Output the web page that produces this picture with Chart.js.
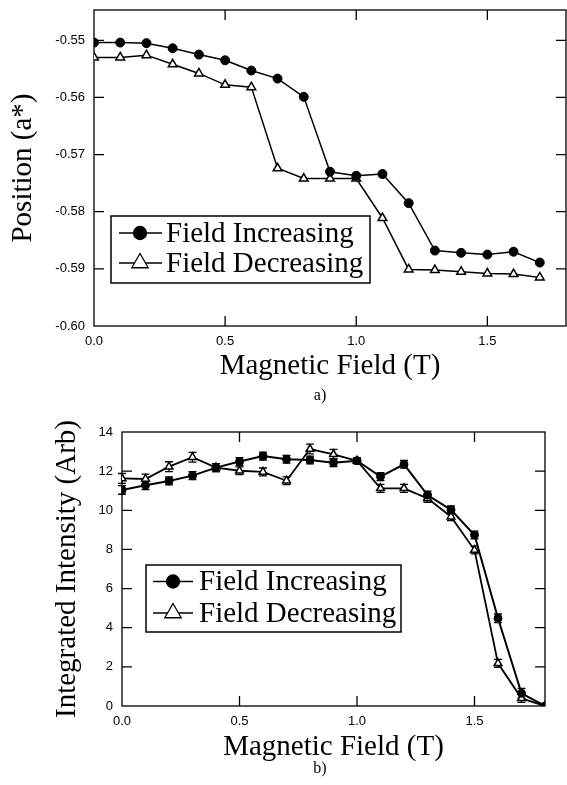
<!DOCTYPE html>
<html>
<head>
<meta charset="utf-8">
<script src="https://cdn.jsdelivr.net/npm/chart.js@4.4.1/dist/chart.umd.min.js"></script>
<style>
  html, body { margin: 0; padding: 0; background: #fff; }
  #wrap { position: relative; width: 567px; height: 785px; overflow: hidden; background: #fff; }
  .box { position: absolute; left: 0; }
  .cap { position: absolute; font-family: 'Liberation Serif', 'Times New Roman', serif; font-size: 16px; color: #000; transform: translate(-50%, -50%); white-space: nowrap; }
</style>
</head>
<body>
<div id="wrap">
  <div class="box" style="top:0;width:567px;height:400px;"><canvas id="ca" width="567" height="400"></canvas></div>
  <div class="box" style="top:400px;width:567px;height:385px;"><canvas id="cb" width="567" height="385"></canvas></div>
  <div class="cap" style="left:320px;top:395px;">a)</div>
  <div class="cap" style="left:320px;top:768px;">b)</div>
</div>
<script>
// ---------- data: panel a ----------
const fieldA = [0.0, 0.1, 0.2, 0.3, 0.4, 0.5, 0.6, 0.7, 0.8, 0.9, 1.0, 1.1, 1.2, 1.3, 1.4, 1.5, 1.6, 1.7];
const positionIncreasing = [-0.5504, -0.5504, -0.5505, -0.5514, -0.5525, -0.5535, -0.5553, -0.5567, -0.5599, -0.5730, -0.5737, -0.5734, -0.5785, -0.5868, -0.5872, -0.5875, -0.5870, -0.5889];
const positionDecreasing = [-0.5530, -0.5530, -0.5526, -0.5542, -0.5558, -0.5578, -0.5582, -0.5724, -0.5742, -0.5742, -0.5742, -0.5811, -0.5901, -0.5902, -0.5905, -0.5908, -0.5909, -0.5915];
const xTicksA = [0.0, 0.5, 1.0, 1.5];
const xTickLabelsA = ['0.0', '0.5', '1.0', '1.5'];
const yTicksA = [-0.60, -0.59, -0.58, -0.57, -0.56, -0.55];
const yTickLabelsA = ['-0.60', '-0.59', '-0.58', '-0.57', '-0.56', '-0.55'];

// ---------- data: panel b ----------
const fieldB = [0.0, 0.1, 0.2, 0.3, 0.4, 0.5, 0.6, 0.7, 0.8, 0.9, 1.0, 1.1, 1.2, 1.3, 1.4, 1.5, 1.6, 1.7, 1.8];
const intensityIncreasing = [11.04, 11.28, 11.50, 11.77, 12.18, 12.49, 12.77, 12.61, 12.57, 12.43, 12.53, 11.72, 12.35, 10.78, 10.02, 8.74, 4.48, 0.65, 0.0];
const errorIncreasing = [0.22, 0.22, 0.20, 0.20, 0.20, 0.20, 0.20, 0.20, 0.20, 0.20, 0.15, 0.20, 0.20, 0.20, 0.20, 0.20, 0.22, 0.25, 0.0];
const intensityDecreasing = [11.63, 11.60, 12.23, 12.71, 12.18, 12.02, 11.96, 11.51, 13.13, 12.86, 12.53, 11.12, 11.12, 10.61, 9.67, 7.97, 2.18, 0.39, 0.0];
const errorDecreasing = [0.25, 0.25, 0.25, 0.25, 0.20, 0.20, 0.20, 0.20, 0.25, 0.25, 0.15, 0.20, 0.20, 0.20, 0.20, 0.20, 0.20, 0.20, 0.0];
const xTicksB = [0.0, 0.5, 1.0, 1.5];
const xTickLabelsB = ['0.0', '0.5', '1.0', '1.5'];
const yTicksB = [0, 2, 4, 6, 8, 10, 12, 14];
const yTickLabelsB = ['0', '2', '4', '6', '8', '10', '12', '14'];

const seriesLabels = ['Field Increasing', 'Field Decreasing'];
const xTitle = 'Magnetic Field (T)';
const yTitleA = 'Position (a*)';
const yTitleB = 'Integrated Intensity (Arb)';

// ---------- helpers ----------
const SERIF = "'Liberation Serif', 'Times New Roman', serif";
const SANS = "'Liberation Sans', Arial, Helvetica, sans-serif";

function pts(xs, ys) { return xs.map((x, i) => ({ x: x, y: ys[i] })); }

function setTicks(values) {
  return function (scale) { scale.ticks = values.map(v => ({ value: v })); };
}
function labelFor(values, labels) {
  return function (value) {
    const i = values.findIndex(v => Math.abs(v - value) < 1e-9);
    return i >= 0 ? labels[i] : '';
  };
}

const framePlugin = {
  id: 'frameTicks',
  beforeDatasetsDraw(chart, args, opts) {
    const { ctx, chartArea: a, scales } = chart;
    const L = opts.tickLen || 10;
    ctx.save();
    ctx.strokeStyle = '#000';
    ctx.lineWidth = opts.lineWidth || 1.3;
    ctx.strokeRect(a.left, a.top, a.right - a.left, a.bottom - a.top);
    ctx.beginPath();
    (opts.xTicks || []).forEach(v => {
      const px = scales.x.getPixelForValue(v);
      if (px <= a.left + 1 || px >= a.right - 1) return;
      ctx.moveTo(px, a.bottom); ctx.lineTo(px, a.bottom - L);
      ctx.moveTo(px, a.top); ctx.lineTo(px, a.top + L);
    });
    (opts.yTicks || []).forEach(v => {
      const py = scales.y.getPixelForValue(v);
      if (py <= a.top + 1 || py >= a.bottom - 1) return;
      ctx.moveTo(a.left, py); ctx.lineTo(a.left + L, py);
      ctx.moveTo(a.right, py); ctx.lineTo(a.right - L, py);
    });
    ctx.stroke();
    // error bars
    (opts.errors || []).forEach(e => {
      const ds = chart.data.datasets[e.dataset];
      ctx.beginPath();
      ctx.lineWidth = 1.3;
      ds.data.forEach((p, i) => {
        const err = e.values[i];
        if (!err) return;
        const px = scales.x.getPixelForValue(p.x);
        const y1 = scales.y.getPixelForValue(p.y + err);
        const y2 = scales.y.getPixelForValue(p.y - err);
        const hw = e.cap || 4;
        ctx.moveTo(px, y1); ctx.lineTo(px, y2);
        ctx.moveTo(px - hw, y1); ctx.lineTo(px + hw, y1);
        ctx.moveTo(px - hw, y2); ctx.lineTo(px + hw, y2);
      });
      ctx.stroke();
    });
    ctx.restore();
  },
  afterDraw(chart, args, opts) {
    const lg = opts.legend;
    if (!lg) return;
    const ctx = chart.ctx;
    ctx.save();
    ctx.fillStyle = '#fff';
    ctx.fillRect(lg.x, lg.y, lg.w, lg.h);
    ctx.strokeStyle = '#000';
    ctx.lineWidth = 1.5;
    ctx.strokeRect(lg.x, lg.y, lg.w, lg.h);
    chart.data.datasets.forEach((ds, i) => {
      const ly = lg.lineY[i];
      ctx.beginPath();
      ctx.lineWidth = 1.5;
      ctx.strokeStyle = '#000';
      ctx.moveTo(lg.x1, ly); ctx.lineTo(lg.x2, ly);
      ctx.stroke();
      ctx.fillStyle = ds.pointBackgroundColor;
      ctx.strokeStyle = '#000';
      ctx.lineWidth = 1.3;
      Chart.helpers.drawPoint(ctx, {
        pointStyle: ds.pointStyle,
        radius: lg.markerR[i],
        rotation: 0,
        borderWidth: 1.3
      }, lg.mx, ly);
      ctx.fillStyle = '#000';
      ctx.font = lg.font;
      ctx.textBaseline = 'alphabetic';
      ctx.textAlign = 'left';
      ctx.fillText(ds.label, lg.tx, lg.base[i]);
    });
    ctx.restore();
  }
};

function makeChart(canvasId, cfg) {
  return new Chart(document.getElementById(canvasId), {
    type: 'line',
    data: { datasets: cfg.datasets },
    plugins: [framePlugin],
    options: {
      responsive: false,
      animation: false,
      events: [],
      layout: { padding: cfg.padding, autoPadding: false },
      plugins: {
        legend: { display: false },
        tooltip: { enabled: false },
        title: { display: false },
        frameTicks: cfg.frame
      },
      scales: {
        x: {
          type: 'linear',
          min: cfg.xMin, max: cfg.xMax,
          afterBuildTicks: setTicks(cfg.xTicks),
          afterFit: s => { s.height = cfg.xHeight; s.paddingLeft = 0; s.paddingRight = 0; },
          grid: { display: false, drawTicks: false },
          border: { display: false },
          ticks: {
            color: '#000', padding: 8,
            font: { family: SANS, size: 13 },
            maxRotation: 0, autoSkip: false,
            callback: labelFor(cfg.xTicks, cfg.xLabels)
          },
          title: {
            display: true, text: xTitle, color: '#000',
            font: { family: SERIF, size: 29, lineHeight: 1 },
            padding: { top: 0, bottom: cfg.xTitlePad }
          }
        },
        y: {
          type: 'linear',
          min: cfg.yMin, max: cfg.yMax,
          afterBuildTicks: setTicks(cfg.yTicks),
          afterFit: s => { s.width = cfg.yWidth; s.paddingTop = 0; s.paddingBottom = 0; },
          grid: { display: false, drawTicks: false },
          border: { display: false },
          ticks: {
            color: '#000', padding: 9,
            font: { family: SANS, size: 13 },
            autoSkip: false,
            callback: labelFor(cfg.yTicks, cfg.yLabels)
          },
          title: {
            display: true, text: cfg.yTitle, color: '#000',
            font: { family: SERIF, size: 29, lineHeight: 1 },
            padding: { top: cfg.yTitlePad, bottom: 0 }
          }
        }
      }
    }
  });
}

// ---------- panel a ----------
makeChart('ca', {
  datasets: [
    {
      label: seriesLabels[0], data: pts(fieldA, positionIncreasing),
      borderColor: '#000', borderWidth: 1.5, tension: 0,
      pointStyle: 'circle', pointRadius: 4.5,
      pointBackgroundColor: '#000', pointBorderColor: '#000', pointBorderWidth: 1
    },
    {
      label: seriesLabels[1], data: pts(fieldA, positionDecreasing),
      borderColor: '#000', borderWidth: 1.5, tension: 0,
      pointStyle: 'triangle', pointRadius: 5,
      pointBackgroundColor: '#fff', pointBorderColor: '#000', pointBorderWidth: 1.5
    }
  ],
  padding: { top: 10, right: 1, left: 0, bottom: 0 },
  xMin: 0, xMax: 1.8, yMin: -0.60, yMax: -0.5447,
  xTicks: xTicksA, xLabels: xTickLabelsA, yTicks: yTicksA, yLabels: yTickLabelsA,
  xHeight: 74, yWidth: 94, xTitlePad: 19, yTitlePad: 9, yTitle: yTitleA,
  frame: {
    tickLen: 10, lineWidth: 1.3,
    xTicks: xTicksA, yTicks: yTicksA,
    legend: {
      x: 111, y: 216, w: 259, h: 67,
      x1: 119, x2: 162, mx: 140, tx: 166,
      lineY: [233, 263], base: [242, 272], markerR: [6.5, 9.5],
      font: "29px " + SERIF
    }
  }
});

// ---------- panel b ----------
makeChart('cb', {
  datasets: [
    {
      label: seriesLabels[0], data: pts(fieldB, intensityIncreasing),
      borderColor: '#000', borderWidth: 2, tension: 0,
      pointStyle: 'circle', pointRadius: 4,
      pointBackgroundColor: '#000', pointBorderColor: '#000', pointBorderWidth: 1
    },
    {
      label: seriesLabels[1], data: pts(fieldB, intensityDecreasing),
      borderColor: '#000', borderWidth: 1.8, tension: 0,
      pointStyle: 'triangle', pointRadius: 4.5,
      pointBackgroundColor: '#fff', pointBorderColor: '#000', pointBorderWidth: 1.5
    }
  ],
  padding: { top: 32, right: 22, left: 0, bottom: 0 },
  xMin: 0, xMax: 1.8, yMin: 0, yMax: 14,
  xTicks: xTicksB, xLabels: xTickLabelsB, yTicks: yTicksB, yLabels: yTickLabelsB,
  xHeight: 79, yWidth: 122, xTitlePad: 23, yTitlePad: 53, yTitle: yTitleB,
  frame: {
    tickLen: 10, lineWidth: 1.3,
    xTicks: xTicksB, yTicks: yTicksB,
    errors: [
      { dataset: 0, values: errorIncreasing, cap: 4 },
      { dataset: 1, values: errorDecreasing, cap: 4 }
    ],
    legend: {
      x: 146, y: 165, w: 255, h: 67,
      x1: 153, x2: 193, mx: 173, tx: 199,
      lineY: [181.5, 213], base: [190, 222], markerR: [6.5, 9.5],
      font: "29px " + SERIF
    }
  }
});
</script>
</body>
</html>
